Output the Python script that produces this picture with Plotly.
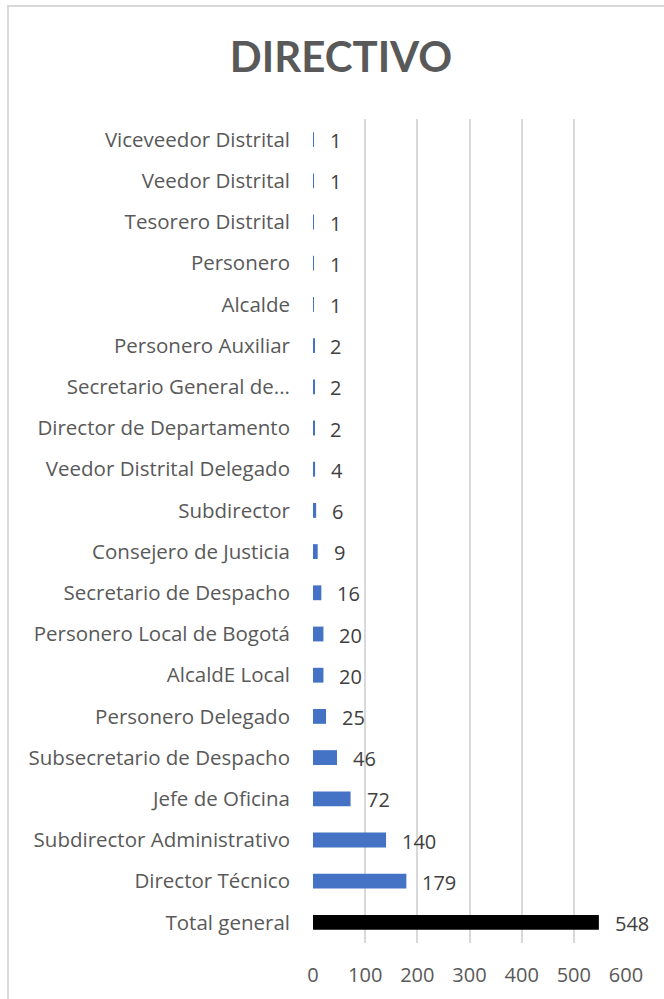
import plotly.graph_objects as go

categories = [
    "Viceveedor Distrital", "Veedor Distrital", "Tesorero Distrital", "Personero",
    "Alcalde", "Personero Auxiliar", "Secretario General de...", "Director de Departamento",
    "Veedor Distrital Delegado", "Subdirector", "Consejero de Justicia",
    "Secretario de Despacho", "Personero Local de Bogotá", "AlcaldE Local",
    "Personero Delegado", "Subsecretario de Despacho", "Jefe de Oficina",
    "Subdirector Administrativo", "Director Técnico", "Total general",
]
values = [1, 1, 1, 1, 1, 2, 2, 2, 4, 6, 9, 16, 20, 20, 25, 46, 72, 140, 179, 548]
colors = ["#4472C4"] * 19 + ["#000000"]
x_ticks = [0, 100, 200, 300, 400, 500, 600]

W, H = 664, 999
L, R, T, B = 313, 38, 119, 56
FONT = "Open Sans"

fig = go.Figure()
fig.add_trace(go.Bar(
    y=categories, x=values, orientation="h",
    marker=dict(color=colors, line=dict(width=0)),
    width=0.36, hoverinfo="skip",
))

for c, v in zip(categories, values):
    fig.add_annotation(x=v, y=c, text=str(v), showarrow=False,
                       xanchor="left", xshift=14, yshift=-1,
                       font=dict(family=FONT, size=20, color="#404040"))

pw = W - L - R
ph = H - T - B
fig.add_shape(type="rect", xref="paper", yref="paper",
              x0=(8 - L) / pw, x1=(W + 10 - L) / pw,
              y0=-(B + 20) / ph, y1=1 + (T - 6) / ph,
              line=dict(color="#d9d9d9", width=2), fillcolor="rgba(0,0,0,0)",
              layer="below")

fig.update_layout(
    width=W, height=H,
    margin=dict(l=L, r=R, t=T, b=B),
    paper_bgcolor="white", plot_bgcolor="white",
    showlegend=False,
    title=dict(text="<b>DIRECTIVO</b>", x=341 / W, xref="container", xanchor="center",
               y=1 - 57 / H, yref="container", yanchor="middle",
               font=dict(family="Lato", size=42, color="#595959")),
    xaxis=dict(range=[0, 600], tickvals=x_ticks, ticktext=[str(t) for t in x_ticks],
               showgrid=True, gridcolor="#d9d9d9", gridwidth=1.5,
               zeroline=False, showline=False, ticks="", ticklen=0,
               ticklabelstandoff=18,
               tickfont=dict(family=FONT, size=20, color="#595959"),
               fixedrange=True),
    yaxis=dict(categoryorder="array", categoryarray=categories[::-1],
               showgrid=False, zeroline=False, showline=False, ticks="",
               ticklabelstandoff=22,
               tickfont=dict(family=FONT, size=20.5, color="#595959")),
)

fig.write_html("out.html", config={"displayModeBar": False},
               post_script="document.body.style.margin='0';")
